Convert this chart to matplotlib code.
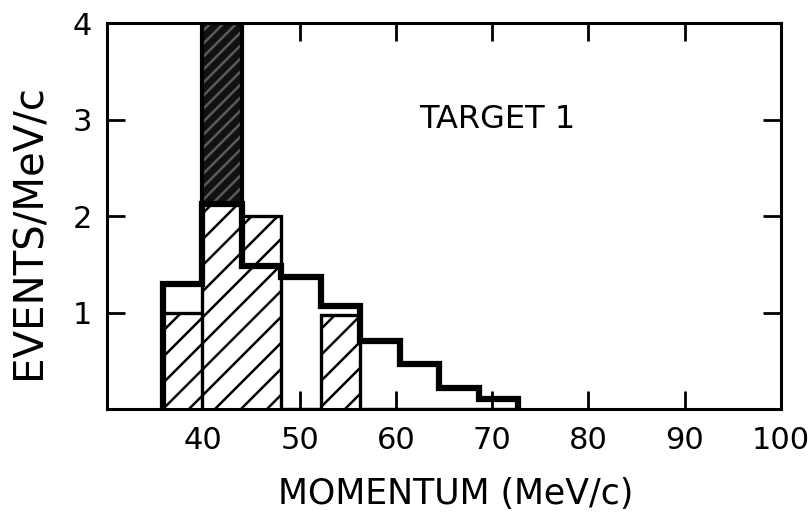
import matplotlib
matplotlib.use("Agg")
import matplotlib.pyplot as plt

# bin edges (MeV/c) and heights (events per MeV/c)
edges = [35.8, 39.9, 44.0, 48.1, 52.2, 56.3, 60.4, 64.5, 68.6, 72.7]
all_events = [1.30, 2.12, 1.48, 1.37, 1.07, 0.71, 0.47, 0.22, 0.10]
hatched = [1.00, 2.12, 2.00, 0.0, 0.97, 0.0, 0.0, 0.0, 0.0]
dark_bin = 1
dark_bottom = 2.12
dark_top = 4.0

xticks = [40, 50, 60, 70, 80, 90, 100]
yticks = [1, 2, 3, 4]
ytick_labels = ["1", "2", "3", "4"]

# low dpi so the hatch lines come out about 13 px apart;
# sizes below are given as if dpi were 100 and scaled with S
DPI = 78
S = 100 / DPI

plt.rcParams["hatch.linewidth"] = 1.8 * S
plt.rcParams["font.family"] = "DejaVu Sans"

fig = plt.figure(figsize=(811 / DPI, 518 / DPI), dpi=DPI)
ax = fig.add_axes([0.132, 0.2104, 0.831, 0.745])

widths = [edges[i + 1] - edges[i] for i in range(len(edges) - 1)]

# single-hatched samples: fill, then outline as one step line
for i, h in enumerate(hatched):
    if h > 0:
        ax.bar(edges[i], h, width=widths[i], align="edge", facecolor="white",
               edgecolor="black", hatch="/", linewidth=0, zorder=2)
ax.stairs(hatched, edges, baseline=0, color="black", linewidth=2.4 * S, zorder=2)
ax.vlines(edges[1], 0, hatched[0], color="black", linewidth=2.4 * S, zorder=2)

# dark cross-hatched bar on top of bin 2
ax.bar(edges[dark_bin], dark_top - dark_bottom, bottom=dark_bottom,
       width=widths[dark_bin], align="edge", facecolor="#111111",
       edgecolor="#5a5a5a", hatch="//", linewidth=0, zorder=3)
ax.bar(edges[dark_bin], dark_top - dark_bottom, bottom=dark_bottom,
       width=widths[dark_bin], align="edge", fill=False,
       edgecolor="black", linewidth=3 * S, zorder=3)

# all events, thick outline
ax.stairs(all_events, edges, baseline=0, color="black", linewidth=4.5 * S, zorder=4)

ax.set_xlim(30, 100)
ax.set_ylim(0, 4)
ax.set_xticks(xticks)
ax.set_yticks(yticks)
ax.set_yticklabels(ytick_labels)
ax.tick_params(direction="in", length=13 * S, width=2 * S, top=True, right=True,
               labelsize=22 * S)
ax.tick_params(axis="x", pad=12 * S)
ax.tick_params(axis="y", pad=11 * S)
for s in ax.spines.values():
    s.set_linewidth(2.2 * S)

ax.text(70.5, 3.0, "TARGET 1", fontsize=23 * S, ha="center", va="center")

ax.set_xlabel("MOMENTUM (MeV/c)", fontsize=25 * S)
ax.xaxis.set_label_coords(0.518, -0.175)
ax.set_ylabel("EVENTS/MeV/c", fontsize=29 * S)
ax.yaxis.set_label_coords(-0.115, 0.46)
ax.yaxis.label.set_va("center")

fig.savefig("out.png", dpi=DPI)
